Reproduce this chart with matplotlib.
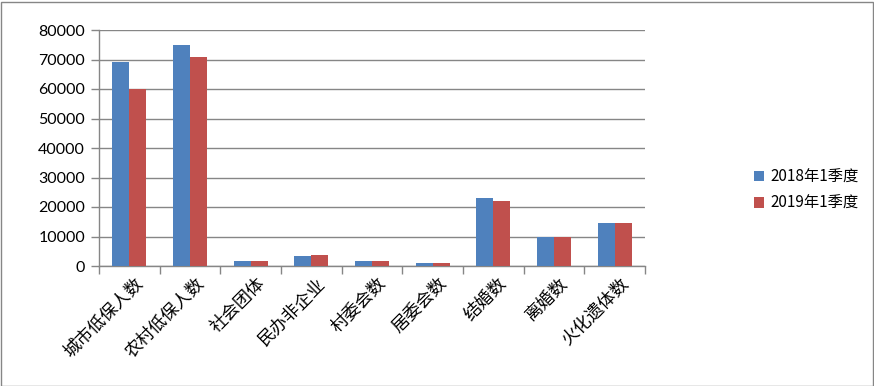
import matplotlib.pyplot as plt
import numpy as np
from matplotlib.patches import Rectangle

plt.rcParams['font.family'] = ['Noto Sans CJK SC', 'DejaVu Sans']

# === data ===
categories = ['城市低保人数', '农村低保人数', '社会团体', '民办非企业', '村委会数',
              '居委会数', '结婚数', '离婚数', '火化遗体数']
series_names = ['2018年1季度', '2019年1季度']
values_2018 = [69000, 75000, 1700, 3400, 1700, 1000, 23000, 9700, 14600]
values_2019 = [60000, 70800, 1700, 3700, 1700, 1000, 22000, 9700, 14600]
y_ticks = [0, 10000, 20000, 30000, 40000, 50000, 60000, 70000, 80000]

colors = ['#4F81BD', '#C0504D']
grid_color = '#868686'

fig = plt.figure(figsize=(8.74, 3.86), dpi=100)
ax = fig.add_axes([99 / 874, 1 - 266 / 386, 546 / 874, 236 / 386])

x = np.arange(len(categories))
w = 0.28
ax.bar(x - w / 2, values_2018, width=w, color=colors[0], label=series_names[0], zorder=3)
ax.bar(x + w / 2, values_2019, width=w, color=colors[1], label=series_names[1], zorder=3)

ax.set_xlim(-0.5, len(categories) - 0.5)
ax.set_ylim(0, 80000)
ax.set_yticks(y_ticks)
ax.set_yticklabels([str(v) for v in y_ticks], family=['Lato', 'DejaVu Sans'], fontsize=11.5)
ax.yaxis.grid(True, color=grid_color, linewidth=1.0, zorder=0)

# category ticks on boundaries, labels at centres
ax.set_xticks(np.arange(len(categories) + 1) - 0.5)
ax.set_xticklabels([])
ax.set_xticks(x + 0.08, minor=True)
ax.set_xticklabels(categories, minor=True, rotation=45, ha='right', va='top',
                   rotation_mode='anchor', fontsize=12.5)
ax.tick_params(axis='x', which='minor', length=0, pad=6)
ax.tick_params(axis='x', which='major', length=6, color=grid_color, width=1.0)
ax.tick_params(axis='y', length=6, color=grid_color, width=1.0, pad=4)

for s in ['top', 'right']:
    ax.spines[s].set_visible(False)
for s in ['left', 'bottom']:
    ax.spines[s].set_color(grid_color)
    ax.spines[s].set_linewidth(1.0)

leg = fig.legend(loc='center left', bbox_to_anchor=(740 / 874, 1 - 190 / 386),
                 frameon=False, fontsize=11, handlelength=0.7, handleheight=0.7,
                 handletextpad=0.4, labelspacing=0.6)

fig.patches.append(Rectangle((0.5 / 874, 0.5 / 386), 1 - 2 / 874, 1 - 2 / 386,
                             transform=fig.transFigure, fill=False,
                             edgecolor=grid_color, linewidth=1.0))

fig.savefig('out.png', dpi=100)
